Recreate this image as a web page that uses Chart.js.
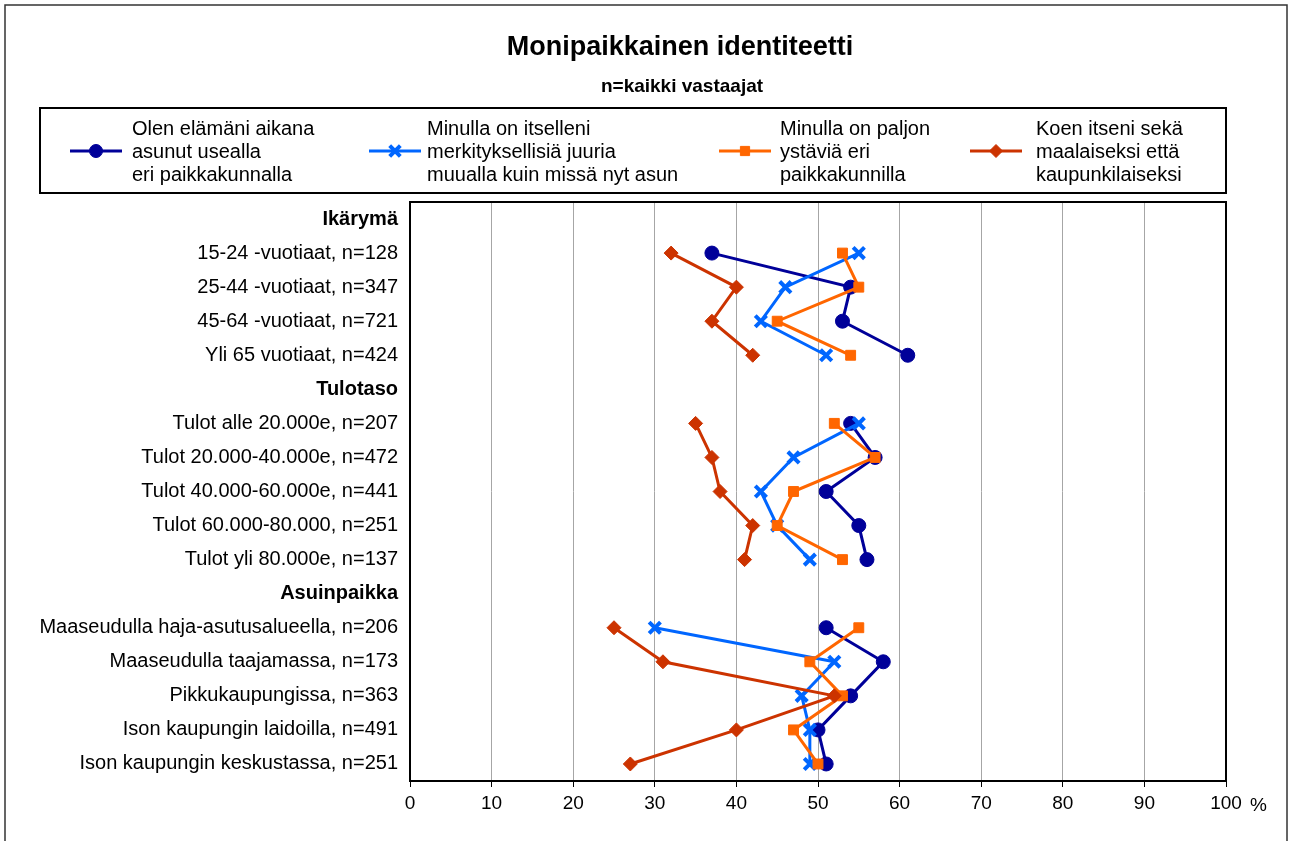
<!DOCTYPE html>
<html>
<head>
<meta charset="utf-8">
<script src="https://cdn.jsdelivr.net/npm/chart.js@4.4.1/dist/chart.umd.min.js"></script>
<style>
  html, body { margin: 0; padding: 0; background: #fff; }
  #wrap { width: 1290px; height: 841px; position: relative; }
</style>
</head>
<body>
<div id="wrap"><canvas id="chart" width="1290" height="841"></canvas></div>
<script>
/* Monipaikkainen identiteetti — horizontal profile lines, one point per group row.
 * Header rows (Ikärymä, Tulotaso, Asuinpaikka) carry nulls so the lines break there. */

const TITLE = "Monipaikkainen identiteetti";
const SUBTITLE = "n=kaikki vastaajat";

const CATEGORIES = [
  "Ikärymä",
  "15-24 -vuotiaat, n=128",
  "25-44 -vuotiaat, n=347",
  "45-64 -vuotiaat, n=721",
  "Yli 65 vuotiaat, n=424",
  "Tulotaso",
  "Tulot alle 20.000e, n=207",
  "Tulot 20.000-40.000e, n=472",
  "Tulot 40.000-60.000e, n=441",
  "Tulot 60.000-80.000, n=251",
  "Tulot yli 80.000e, n=137",
  "Asuinpaikka",
  "Maaseudulla haja-asutusalueella, n=206",
  "Maaseudulla taajamassa, n=173",
  "Pikkukaupungissa, n=363",
  "Ison kaupungin laidoilla, n=491",
  "Ison kaupungin keskustassa, n=251"
];
const HEADERS = ["Ikärymä", "Tulotaso", "Asuinpaikka"];

const ASUNUT_USEALLA = [null, 37, 54, 53, 61, null, 54, 57, 51, 55, 56, null, 51, 58, 54, 50, 51];
const JUURIA_MUUALLA = [null, 55, 46, 43, 51, null, 55, 47, 43, 45, 49, null, 30, 52, 48, 49, 49];
const YSTAVIA_ERI    = [null, 53, 55, 45, 54, null, 52, 57, 47, 45, 53, null, 55, 49, 53, 47, 50];
const MAALAINEN_KAUPUNKILAINEN = [null, 32, 40, 37, 42, null, 35, 37, 38, 42, 41, null, 25, 31, 52, 40, 27];

const SERIES_LABELS = [
  ["Olen elämäni aikana", "asunut usealla", "eri paikkakunnalla"],
  ["Minulla on itselleni", "merkityksellisiä juuria", "muualla kuin missä nyt asun"],
  ["Minulla on paljon", "ystäviä eri", "paikkakunnilla"],
  ["Koen itseni sekä", "maalaiseksi että", "kaupunkilaiseksi"]
];

const X_MIN = 0, X_MAX = 100, X_STEP = 10;

const FONT = "'Liberation Sans', Arial, Helvetica, sans-serif";
const COLORS = ["#000099", "#0066ff", "#ff6600", "#cc3300"];
const STYLES = [
  { pointStyle: "circle",   radius: 7, pointBorderWidth: 1 },
  { pointStyle: "crossRot", radius: 8, pointBorderWidth: 4 },
  { pointStyle: "rect",     radius: 7, pointBorderWidth: 1 },
  { pointStyle: "rectRot",  radius: 7, pointBorderWidth: 1 }
];
const SERIES = [ASUNUT_USEALLA, JUURIA_MUUALLA, YSTAVIA_ERI, MAALAINEN_KAUPUNKILAINEN];

// legend slots: marker-line start x, text x
const LEGEND_SLOTS = [
  { line: 70,  text: 132 },
  { line: 369, text: 427 },
  { line: 719, text: 780 },
  { line: 970, text: 1036 }
];

const datasets = SERIES.map((data, i) => ({
  label: SERIES_LABELS[i].join(" "),
  data,
  borderColor: COLORS[i],
  backgroundColor: COLORS[i],
  borderWidth: 3,
  pointStyle: STYLES[i].pointStyle,
  pointRadius: STYLES[i].radius,
  pointBorderWidth: STYLES[i].pointBorderWidth,
  pointBackgroundColor: COLORS[i],
  pointBorderColor: COLORS[i],
  spanGaps: false,
  tension: 0,
  order: SERIES.length - 1 - i
}));

const decor = {
  id: "decor",
  beforeDraw(chart) {
    const ctx = chart.ctx;
    ctx.save();
    ctx.fillStyle = "#fff";
    ctx.fillRect(0, 0, chart.width, chart.height);
    ctx.restore();
  },
  afterDraw(chart) {
    const { ctx, chartArea: a } = chart;
    ctx.save();
    // outer frame
    ctx.strokeStyle = "#333";
    ctx.lineWidth = 1.5;
    ctx.strokeRect(5, 5, 1282, 900);
    // plot frame
    ctx.strokeStyle = "#000";
    ctx.lineWidth = 2;
    ctx.strokeRect(a.left, a.top, a.right - a.left, a.bottom - a.top);

    // titles
    ctx.fillStyle = "#000";
    ctx.textAlign = "center";
    ctx.textBaseline = "middle";
    ctx.font = "bold 27px " + FONT;
    ctx.fillText(TITLE, 680, 48);
    ctx.font = "bold 19px " + FONT;
    ctx.fillText(SUBTITLE, 682, 87);

    // "%" after the last x tick
    ctx.textAlign = "left";
    ctx.font = "19px " + FONT;
    ctx.fillText("%", 1250, 806);

    // legend box
    ctx.lineWidth = 2;
    ctx.strokeStyle = "#000";
    ctx.strokeRect(40, 108, 1186, 85);
    LEGEND_SLOTS.forEach((s, i) => {
      const cy = 151;
      ctx.strokeStyle = COLORS[i];
      ctx.fillStyle = COLORS[i];
      ctx.lineWidth = 3;
      ctx.beginPath();
      ctx.moveTo(s.line, cy);
      ctx.lineTo(s.line + 52, cy);
      ctx.stroke();
      ctx.lineWidth = STYLES[i].pointBorderWidth;
      Chart.helpers.drawPoint(ctx, {
        pointStyle: STYLES[i].pointStyle,
        radius: STYLES[i].radius - 0.5,
        rotation: 0,
        borderWidth: STYLES[i].pointBorderWidth
      }, s.line + 26, cy);
      ctx.fillStyle = "#000";
      ctx.font = "20px " + FONT;
      ctx.textAlign = "left";
      SERIES_LABELS[i].forEach((t, k) => ctx.fillText(t, s.text, 129 + k * 23));
    });
    ctx.restore();
  }
};

new Chart(document.getElementById("chart"), {
  type: "line",
  data: { labels: CATEGORIES, datasets },
  plugins: [decor],
  options: {
    responsive: false,
    animation: false,
    indexAxis: "y",
    events: [],
    layout: { padding: { left: 6, right: 64, top: 202, bottom: 0 } },
    plugins: { legend: { display: false }, tooltip: { enabled: false }, title: { display: false } },
    scales: {
      x: {
        type: "linear", position: "bottom", min: X_MIN, max: X_MAX,
        ticks: { stepSize: X_STEP, color: "#000", padding: 5, font: { family: FONT, size: 19 } },
        grid: { color: "#a6a6a6", lineWidth: 1, tickColor: "#000", tickLength: 6, drawTicks: true },
        border: { display: false },
        afterFit: (s) => { s.height = 60; }
      },
      y: {
        type: "category",
        offset: true,
        ticks: {
          color: "#000", padding: 12, autoSkip: false,
          font: (c) => ({ family: FONT, size: 20, weight: HEADERS.includes(CATEGORIES[c.index]) ? "bold" : "normal" })
        },
        grid: { display: false, drawTicks: false, offset: true },
        border: { display: false },
        afterFit: (s) => { s.width = 404; }
      }
    }
  }
});
</script>
</body>
</html>
